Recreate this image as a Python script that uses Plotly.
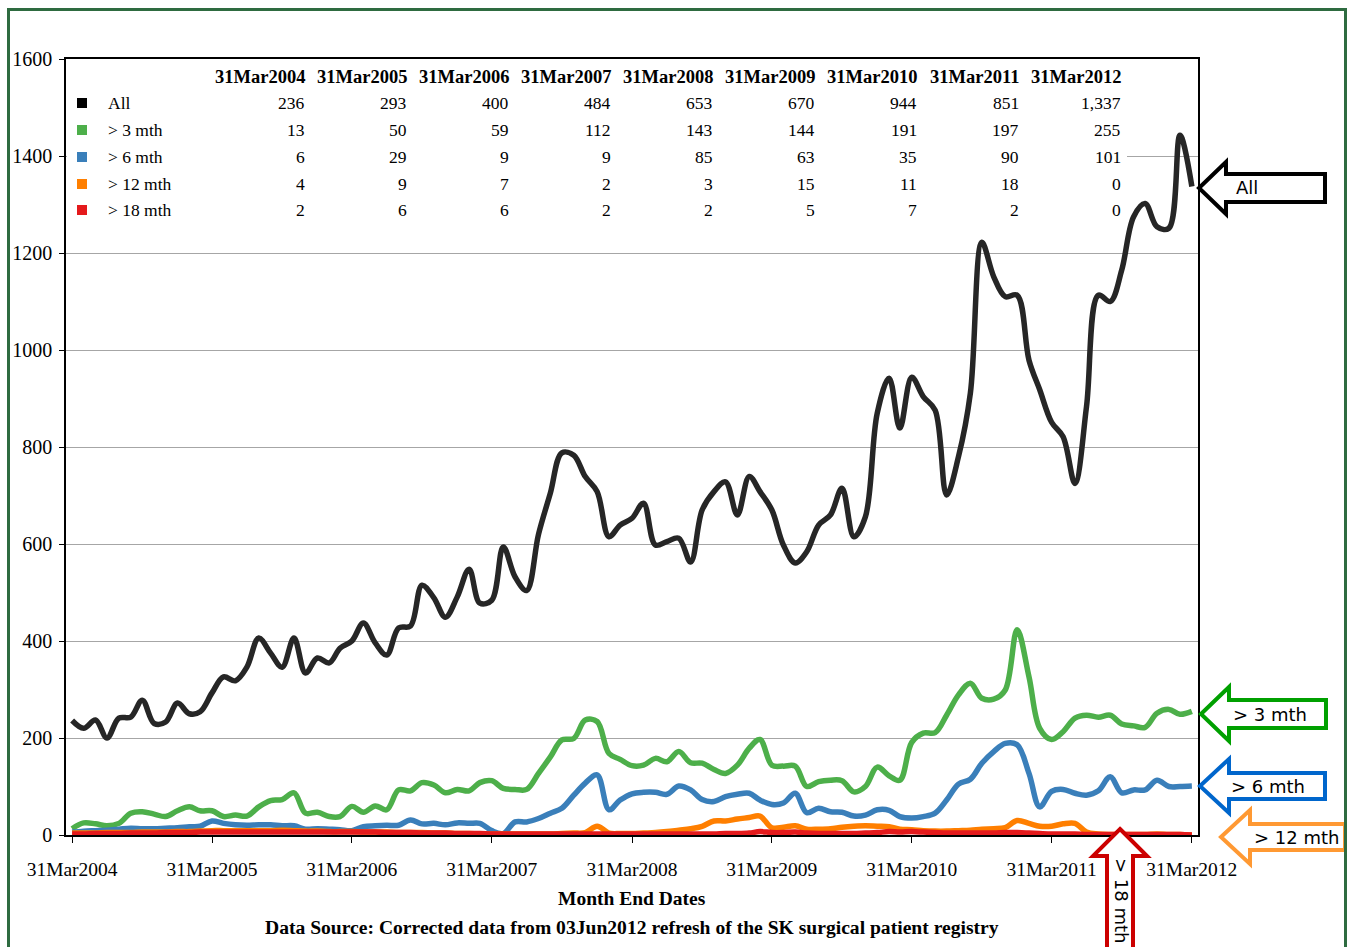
import pandas as pd
import plotly.graph_objects as go

# ---- data -------------------------------------------------------------
month_end = pd.date_range("2004-03-31", periods=97, freq="ME")

wait_all = [236, 220, 237, 200, 241, 243, 278, 230, 233, 272, 250, 254,
            293, 326, 318, 346, 406, 375, 346, 406, 334, 365, 355, 385,
            400, 437, 396, 371, 427, 431, 515, 489, 449, 491, 548, 478,
            484, 594, 532, 504, 620, 705, 788, 783, 739, 708, 615, 639,
            653, 684, 598, 605, 612, 563, 670, 708, 728, 660, 739, 708,
            670, 598, 561, 584, 639, 660, 715, 615, 656, 870, 942, 839,
            944, 904, 876, 701, 780, 911, 1222, 1151, 1110, 1113, 979, 918,
            851, 821, 725, 883, 1113, 1100, 1165, 1275, 1302, 1254, 1251, 1443,
            1337]

wait_3m = [13, 25, 23, 19, 24, 45, 48, 43, 38, 50, 58, 50,
           50, 38, 41, 39, 58, 71, 73, 87, 45, 47, 38, 38,
           59, 47, 60, 52, 93, 91, 108, 103, 87, 94, 91, 108,
           112, 96, 94, 94, 127, 161, 196, 199, 237, 234, 168, 156,
           143, 144, 158, 151, 172, 149, 148, 135, 127, 144, 179, 197,
           144, 142, 142, 100, 110, 113, 112, 89, 100, 140, 122, 113,
           191, 210, 211, 247, 289, 313, 282, 280, 299, 423, 326, 220,
           197, 213, 241, 247, 243, 247, 229, 225, 222, 251, 259, 249,
           255]

wait_6m = [6, 8, 9, 10, 12, 14, 13, 13, 14, 15, 17, 18,
           29, 24, 21, 20, 21, 21, 19, 19, 12, 13, 12, 11,
           9, 17, 19, 20, 20, 31, 23, 24, 21, 25, 24, 24,
           9, 3, 27, 27, 34, 45, 55, 82, 107, 124, 52, 72,
           85, 88, 88, 84, 101, 93, 73, 69, 79, 84, 86, 72,
           63, 66, 86, 46, 55, 48, 47, 39, 41, 52, 51, 38,
           35, 38, 45, 72, 105, 115, 148, 172, 189, 186, 127, 58,
           90, 94, 86, 82, 91, 120, 87, 93, 93, 113, 100, 100,
           101]

wait_12m = [4, 4, 4, 5, 5, 5, 6, 6, 6, 7, 7, 8,
            9, 9, 9, 9, 9, 9, 10, 9, 8, 8, 7, 7,
            7, 6, 6, 6, 5, 5, 5, 4, 4, 3, 3, 2,
            2, 2, 2, 2, 2, 2, 3, 4, 5, 18, 4, 3,
            3, 4, 5, 7, 10, 13, 18, 29, 29, 33, 36, 39,
            15, 16, 19, 12, 12, 13, 16, 18, 19, 18, 17, 12,
            11, 9, 8, 8, 9, 10, 12, 13, 15, 30, 24, 18,
            18, 23, 24, 6, 2, 1, 1, 1, 1, 2, 1, 1,
            0]

wait_18m = [2, 2, 3, 3, 3, 4, 4, 4, 5, 5, 5, 6,
            6, 6, 6, 6, 6, 6, 6, 6, 6, 6, 6, 6,
            6, 6, 6, 5, 5, 5, 4, 4, 4, 3, 3, 3,
            2, 2, 2, 2, 2, 2, 2, 2, 2, 2, 2, 2,
            2, 2, 2, 2, 2, 2, 2, 2, 3, 3, 4, 7,
            5, 5, 6, 4, 3, 3, 3, 3, 4, 5, 7, 6,
            7, 6, 5, 4, 4, 4, 4, 4, 5, 5, 4, 3,
            2, 2, 2, 1, 1, 1, 1, 1, 1, 1, 1, 1,
            0]

series_names = ["All", "> 3 mth", "> 6 mth", "> 12 mth", "> 18 mth"]
series_values = [wait_all, wait_3m, wait_6m, wait_12m, wait_18m]
series_colors = ["#262626", "#4daf4a", "#3a7fba", "#ff7f00", "#e41a1c"]

year_ends = [f"{y}-03-31" for y in range(2004, 2013)]
year_labels = [f"31Mar{y}" for y in range(2004, 2013)]
table_values = [
    ["236", "293", "400", "484", "653", "670", "944", "851", "1,337"],
    ["13", "50", "59", "112", "143", "144", "191", "197", "255"],
    ["6", "29", "9", "9", "85", "63", "35", "90", "101"],
    ["4", "9", "7", "2", "3", "15", "11", "18", "0"],
    ["2", "6", "6", "2", "2", "5", "7", "2", "0"],
]

# ---- page geometry (pixels) -------------------------------------------
W, H = 1350, 947
L, R, T, B = 66, 1198, 59, 835


def px(x):
    return (x - L) / (R - L)


def py(y):
    return (B - y) / (B - T)


SERIF = "Liberation Serif, Times New Roman, serif"
SANS = "DejaVu Sans, Verdana, sans-serif"

fig = go.Figure()
for name, vals, col in zip(series_names, series_values, series_colors):
    fig.add_trace(go.Scatter(
        x=month_end, y=vals, name=name, mode="lines",
        line=dict(color=col, width=5.5, shape="spline", smoothing=1.0),
        showlegend=False, hoverinfo="x+y+name",
    ))

shapes = []
annotations = []

# white panel behind the summary table (hides the grid there)
shapes.append(dict(type="rect", xref="paper", yref="paper", layer="above",
                   x0=px(67), x1=px(1127), y0=py(61), y1=py(228),
                   fillcolor="white", line=dict(width=0)))

# summary table: header row
row_y = [103, 130, 157, 184, 210]
col_right = [306 + 102 * k for k in range(len(year_labels))]
for xr, lab in zip(col_right, year_labels):
    annotations.append(dict(xref="paper", yref="paper", x=px(xr + 1), y=py(77),
                            xanchor="right", yanchor="middle", showarrow=False,
                            text=f"<b>{lab}</b>",
                            font=dict(family=SERIF, size=18.5, color="black")))
# summary table: body rows with colour keys
for yr, name, col, vals in zip(row_y, series_names, series_colors, table_values):
    shapes.append(dict(type="rect", xref="paper", yref="paper", layer="above",
                       x0=px(77), x1=px(87), y0=py(yr - 5), y1=py(yr + 5),
                       fillcolor=col if col != "#262626" else "black",
                       line=dict(width=0)))
    annotations.append(dict(xref="paper", yref="paper", x=px(106), y=py(yr),
                            xanchor="left", yanchor="middle", showarrow=False,
                            text=name,
                            font=dict(family=SERIF, size=17.5, color="black")))
    for xr, v in zip(col_right, vals):
        annotations.append(dict(xref="paper", yref="paper", x=px(xr + 1), y=py(yr),
                                xanchor="right", yanchor="middle", showarrow=False,
                                text=v,
                                font=dict(family=SERIF, size=17.5, color="black")))


def left_arrow(tip_x, cy, back_x, head_h, shaft_h, end_x):
    pts = [(tip_x, cy), (back_x, cy - head_h), (back_x, cy - shaft_h),
           (end_x, cy - shaft_h), (end_x, cy + shaft_h), (back_x, cy + shaft_h),
           (back_x, cy + head_h)]
    return "M " + " L ".join(f"{px(a):.5f},{py(b):.5f}" for a, b in pts) + " Z"


def up_arrow(cx, tip_y, base_y, head_w, shaft_w, end_y):
    pts = [(cx, tip_y), (cx + head_w, base_y), (cx + shaft_w, base_y),
           (cx + shaft_w, end_y), (cx - shaft_w, end_y), (cx - shaft_w, base_y),
           (cx - head_w, base_y)]
    return "M " + " L ".join(f"{px(a):.5f},{py(b):.5f}" for a, b in pts) + " Z"


# call-out arrows naming each line
callouts = [
    ("All", "black", 1199, 188, 1226, 26, 14, 1325, 1247),
    ("> 3 mth", "#00a000", 1201, 714, 1229, 27, 14, 1326, 1270),
    ("> 6 mth", "#0066cc", 1200, 786, 1229, 27, 13, 1325, 1268),
    ("> 12 mth", "#ff9933", 1221, 837, 1250, 27, 13, 1345, 1296),
]
for text, col, tx, cy, bx, hh, sh, ex, lx in callouts:
    shapes.append(dict(type="path", xref="paper", yref="paper", layer="above",
                       path=left_arrow(tx, cy, bx, hh, sh, ex),
                       fillcolor="white", line=dict(color=col, width=4)))
    annotations.append(dict(xref="paper", yref="paper", x=px(lx), y=py(cy),
                            xanchor="center", yanchor="middle", showarrow=False,
                            text=text, font=dict(family=SANS, size=18, color="black")))

shapes.append(dict(type="path", xref="paper", yref="paper", layer="above",
                   path=up_arrow(1120, 829, 856, 27, 13, 1010),
                   fillcolor="white", line=dict(color="#cc0000", width=4)))
annotations.append(dict(xref="paper", yref="paper", x=px(1121), y=py(900),
                        xanchor="center", yanchor="middle", showarrow=False,
                        textangle=90, text="> 18 mth",
                        font=dict(family=SANS, size=18, color="black")))

# axis title and source note
annotations.append(dict(xref="paper", yref="paper", x=px(632), y=py(898),
                        xanchor="center", yanchor="middle", showarrow=False,
                        text="<b>Month End Dates</b>",
                        font=dict(family=SERIF, size=19.5, color="black")))
annotations.append(dict(xref="paper", yref="paper", x=px(632), y=py(927),
                        xanchor="center", yanchor="middle", showarrow=False,
                        text="<b>Data Source: Corrected data from 03Jun2012 refresh of the SK surgical patient registry</b>",
                        font=dict(family=SERIF, size=19.6, color="black")))

# dark green page frame
shapes.append(dict(type="path", xref="paper", yref="paper", layer="above",
                   path=(f"M {px(8.5)},{py(1000)} L {px(8.5)},{py(9.5)} "
                         f"L {px(1345.5)},{py(9.5)} L {px(1345.5)},{py(1000)}"),
                   line=dict(color="#2e6b40", width=3)))

fig.update_layout(
    width=W, height=H,
    margin=dict(l=L, r=W - R, t=T, b=H - B, pad=0),
    paper_bgcolor="white", plot_bgcolor="white",
    shapes=shapes, annotations=annotations,
    showlegend=False,
    xaxis=dict(
        type="date",
        range=["2004-03-15", "2012-04-16"],
        tickvals=year_ends, ticktext=year_labels,
        ticks="outside", ticklen=6, tickwidth=1, tickcolor="black",
        ticklabelstandoff=10,
        showgrid=False, zeroline=False,
        showline=True, linecolor="black", linewidth=1.5, mirror=True,
        tickfont=dict(family=SERIF, size=19.5, color="black"),
    ),
    yaxis=dict(
        range=[0, 1600], dtick=200,
        ticks="outside", ticklen=5, tickwidth=1, tickcolor="black",
        ticklabelstandoff=3,
        showgrid=True, gridcolor="#a6a6a6", gridwidth=1,
        zeroline=False,
        showline=True, linecolor="black", linewidth=1.5, mirror=True,
        tickfont=dict(family=SERIF, size=20, color="black"),
    ),
)

fig.write_html("out.html")
